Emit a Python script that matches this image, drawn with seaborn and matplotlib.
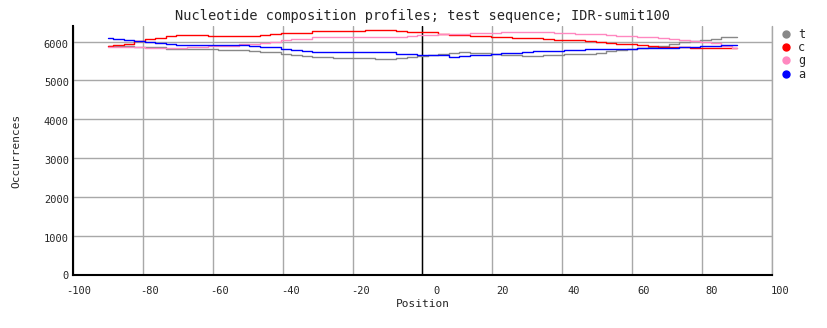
import matplotlib
matplotlib.use("Agg")
import matplotlib.pyplot as plt
import matplotlib.transforms as mtransforms
import numpy as np
import pandas as pd
import seaborn as sns

positions = [-90, -87, -84, -81, -78, -75, -72, -69, -66, -63, -60, -57, -54, -51, -48,
             -45, -42, -39, -36, -33, -30, -27, -24, -21, -18, -15, -12, -9, -6, -3,
             0, 3, 6, 9, 12, 15, 18, 21, 24, 27, 30, 33, 36, 39, 42, 45, 48, 51, 54,
             57, 60, 63, 66, 69, 72, 75, 78, 81, 84, 87, 90]

t_values = [5890, 5880, 5875, 5870, 5865, 5850, 5820, 5810, 5800, 5800, 5800, 5790, 5785, 5785, 5770,
            5740, 5720, 5690, 5665, 5635, 5610, 5610, 5590, 5580, 5580, 5570, 5560, 5560, 5590, 5610,
            5640, 5650, 5690, 5700, 5735, 5715, 5700, 5675, 5660, 5650, 5620, 5635, 5650, 5660, 5675,
            5675, 5690, 5710, 5750, 5780, 5800, 5830, 5860, 5880, 5930, 5980, 6025, 6050, 6075, 6110, 6130]

c_values = [5880, 5900, 5950, 6010, 6060, 6100, 6140, 6170, 6170, 6170, 6150, 6145, 6145, 6145, 6150,
            6180, 6190, 6210, 6210, 6215, 6265, 6265, 6280, 6280, 6280, 6290, 6300, 6300, 6270, 6240,
            6240, 6240, 6200, 6170, 6170, 6145, 6145, 6110, 6110, 6100, 6090, 6080, 6070, 6050, 6035,
            6030, 6010, 6000, 5975, 5940, 5940, 5915, 5890, 5860, 5860, 5860, 5845, 5845, 5845, 5845, 5845]

g_values = [5855, 5855, 5855, 5855, 5840, 5840, 5840, 5840, 5860, 5870, 5890, 5890, 5890, 5925, 5940,
            5965, 6000, 6050, 6075, 6075, 6110, 6110, 6120, 6130, 6130, 6130, 6130, 6130, 6130, 6140,
            6170, 6170, 6195, 6200, 6205, 6220, 6225, 6230, 6235, 6245, 6250, 6250, 6245, 6230, 6210,
            6200, 6195, 6195, 6170, 6145, 6145, 6120, 6110, 6095, 6070, 6045, 6020, 5990, 5965, 5890, 5845]

a_values = [6095, 6070, 6035, 6020, 6000, 5975, 5940, 5915, 5915, 5915, 5915, 5915, 5915, 5915, 5890,
            5870, 5855, 5820, 5785, 5750, 5720, 5720, 5720, 5720, 5720, 5720, 5720, 5720, 5675, 5675,
            5650, 5650, 5650, 5615, 5630, 5645, 5655, 5680, 5695, 5705, 5740, 5750, 5770, 5770, 5785,
            5785, 5810, 5810, 5810, 5810, 5820, 5835, 5835, 5835, 5835, 5850, 5860, 5890, 5890, 5900, 5915]

series_names = ["t", "c", "g", "a"]
series_colors = ["#888888", "#ff0000", "#ff88c0", "#0000ff"]
x_ticks = [-100, -80, -60, -40, -20, 0, 20, 40, 60, 80, 100]
y_ticks = [0, 1000, 2000, 3000, 4000, 5000, 6000]

df = pd.DataFrame({
    "Position": positions * 4,
    "Occurrences": t_values + c_values + g_values + a_values,
    "residue": sum([[n] * len(positions) for n in series_names], []),
})

sns.set_style("white")
plt.rcParams["font.family"] = ["DejaVu Sans"]

fig = plt.figure(figsize=(8.28, 3.28), dpi=100)
ax = fig.add_axes([73 / 828, 53 / 328, 699 / 828, 249 / 328])

sns.lineplot(data=df, x="Position", y="Occurrences", hue="residue",
             palette=dict(zip(series_names, series_colors)), hue_order=series_names,
             estimator=None, drawstyle="steps-mid", linewidth=1.0, ax=ax, legend=False,
             zorder=3)

ax.set_xlim(-100, 100)
ax.set_ylim(0, 6400)
ax.set_xticks(x_ticks)
ax.set_yticks(y_ticks)
ax.set_xticklabels([str(v) for v in x_ticks], fontsize=7.5, family="DejaVu Sans Mono")
ax.set_yticklabels([str(v) for v in y_ticks], fontsize=7.5, family="DejaVu Sans Mono")
ax.tick_params(axis="x", length=0, pad=8)
ax.tick_params(axis="y", length=0, pad=3)
# the reference draws its x tick labels a few pixels to the right of the grid lines
label_shift_px = [6, 7, 7, 8, 8, 14, 10, 11, 11, 10, 8]
for lab, sh in zip(ax.get_xticklabels(), label_shift_px):
    lab.set_transform(lab.get_transform() +
                      mtransforms.ScaledTranslation(sh / 100, 0, fig.dpi_scale_trans))
yoff = mtransforms.ScaledTranslation(0, -2 / 100, fig.dpi_scale_trans)
for lab in ax.get_yticklabels()[1:]:
    lab.set_transform(lab.get_transform() + yoff)

ax.grid(True, color="#a8a8a8", linewidth=1.0, zorder=0)
ax.set_axisbelow(True)
ax.axvline(0, color="black", linewidth=1.0, zorder=2)
ax.axvline(x_ticks[-1], color="#a8a8a8", linewidth=1.0, zorder=0, clip_on=False)

for side in ["top", "right"]:
    ax.spines[side].set_visible(False)
for side in ["left", "bottom"]:
    ax.spines[side].set_color("black")
    ax.spines[side].set_linewidth(1.5)

ax.set_xlabel("Position", fontsize=8, family="DejaVu Sans Mono", labelpad=2)
ax.set_ylabel("Occurrences", fontsize=8, family="DejaVu Sans Mono", labelpad=16)
ax.set_title("Nucleotide composition profiles; test sequence; IDR-sumit100",
             fontsize=9.8, family="DejaVu Sans Mono", pad=4)

handles = [plt.Line2D([], [], marker="o", linestyle="none", color=c, markersize=5)
           for c in series_colors]
leg = ax.legend(handles, series_names, loc="upper left", bbox_to_anchor=(1.0, 1.03),
                frameon=False, handlelength=0.8, handletextpad=0.6,
                labelspacing=0.02, borderaxespad=0.4, prop={"family": "DejaVu Sans Mono", "size": 8.5})

fig.savefig("out.png", dpi=100)
